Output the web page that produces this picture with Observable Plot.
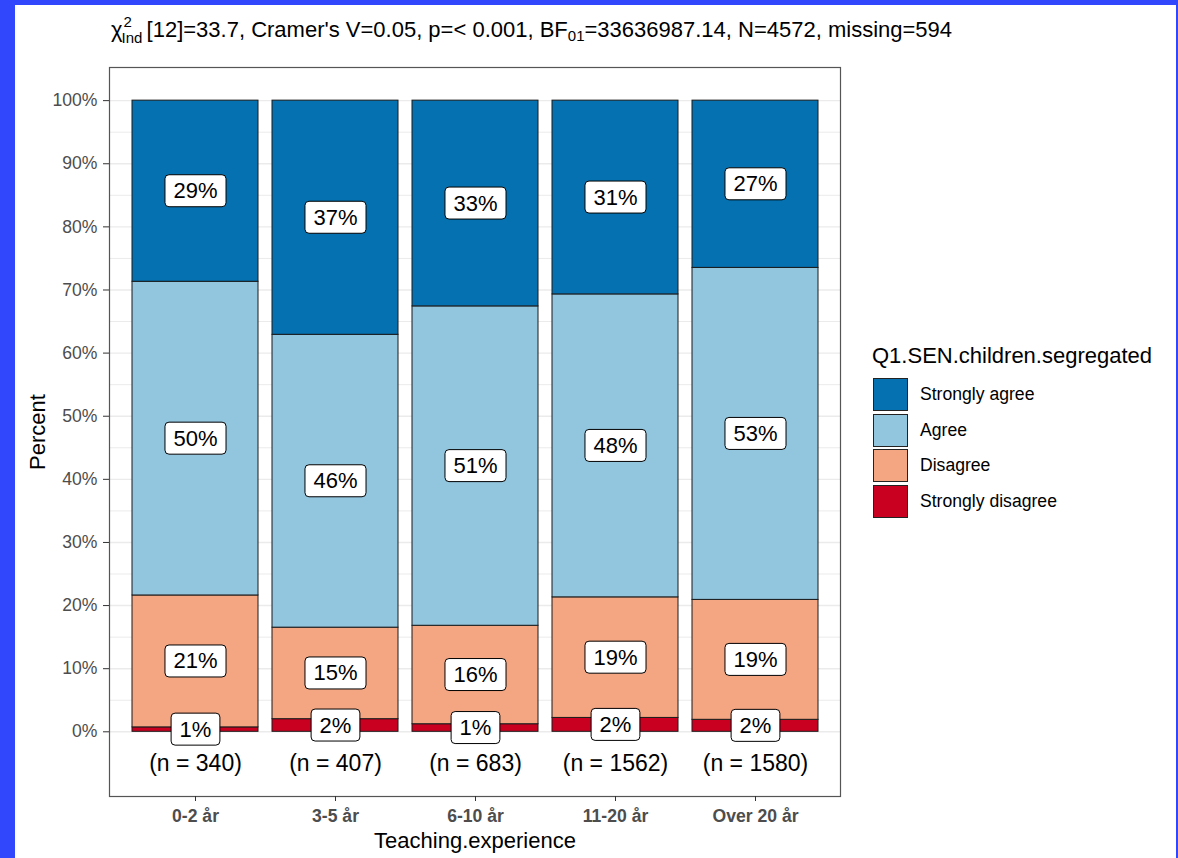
<!DOCTYPE html>
<html>
<head>
<meta charset="utf-8">
<script src="https://cdn.jsdelivr.net/npm/d3@7"></script>
<script src="https://cdn.jsdelivr.net/npm/@observablehq/plot@0.6"></script>
<style>
  html, body { margin: 0; padding: 0; }
  body { width: 1178px; height: 858px; background: #3047fb; position: relative; overflow: hidden;
         font-family: "Liberation Sans", Arial, sans-serif; }
  #sheet { position: absolute; left: 15px; top: 5px; width: 1161px; height: 853px; background: #fff; }
  #title { position: absolute; left: 111px; top: 19px; font-size: 22px; line-height: 22px; color: #000; white-space: nowrap; }
  #title .ss { display: inline-block; position: relative; width: 24px; height: 22px; vertical-align: top; }
  #title .ss .sup { position: absolute; left: 1px; top: -5px; font-size: 15px; line-height: 15px; }
  #title .ss .sub { position: absolute; left: -1px; top: 11px; font-size: 15px; line-height: 15px; }
  #title sub { font-size: 15px; vertical-align: -4px; line-height: 0; }
  #chart { position: absolute; left: 15px; top: 55px; }
  #legend { position: absolute; left: 872px; top: 343px; }
  #legend .lt { font-size: 22px; line-height: 26px; white-space: nowrap; }
  #legend .row { position: absolute; left: 1px; height: 33px; }
  #legend .key { position: absolute; left: 0; top: 0; width: 33px; height: 31px; border: 1px solid #222; }
  #legend .lab { position: absolute; left: 47px; top: 0; line-height: 33px; font-size: 17.6px; white-space: nowrap; }
</style>
</head>
<body>
<div id="sheet"></div>
<div id="title"><span>χ</span><span class="ss"><span class="sup">2</span><span class="sub">Ind</span></span>[12]=33.7, Cramer's V=0.05, p=&lt; 0.001, BF<sub>01</sub>=33636987.14, N=4572, missing=594</div>
<div id="chart"></div>
<div id="legend"></div>
<script>
// ---- data ----
const categories = ["0-2 år", "3-5 år", "6-10 år", "11-20 år", "Over 20 år"];
const counts = [340, 407, 683, 1562, 1580];
const responses = ["Strongly agree", "Agree", "Disagree", "Strongly disagree"];
const colors = ["#0571b0", "#92c5de", "#f4a582", "#ca0020"];
const stronglyDisagree = [0.7, 2.0, 1.2, 2.2, 1.9];
const disagree = [20.9, 14.5, 15.6, 19.1, 19.0];
const agree = [49.7, 46.4, 50.6, 48.0, 52.6];
const stronglyAgree = [28.7, 37.1, 32.6, 30.7, 26.5];
const majorTicks = [0, 0.1, 0.2, 0.3, 0.4, 0.5, 0.6, 0.7, 0.8, 0.9, 1.0];
const minorTicks = [0.05, 0.15, 0.25, 0.35, 0.45, 0.55, 0.65, 0.75, 0.85, 0.95];
const legendTitle = "Q1.SEN.children.segregated";

// ---- derived table (stacked from bottom) ----
const table = [];
categories.forEach((c, i) => {
  let cum = 0;
  [["Strongly disagree", stronglyDisagree[i]], ["Disagree", disagree[i]],
   ["Agree", agree[i]], ["Strongly agree", stronglyAgree[i]]].forEach(([r, v]) => {
    table.push({cat: c, resp: r, v, y1: cum / 100, y2: (cum + v) / 100, mid: (cum + v / 2) / 100});
    cum += v;
  });
});
const nTable = categories.map((c, i) => ({cat: c, label: `(n = ${counts[i]})`}));

const svg = Plot.plot({
  width: 1160, height: 803,
  marginLeft: 94, marginRight: 335, marginTop: 12, marginBottom: 62,
  x: {domain: categories, paddingInner: 0.1, paddingOuter: 0.15, axis: null},
  y: {domain: [-0.1025, 1.0525], axis: null},
  color: {domain: responses, range: colors},
  style: {fontFamily: "'Liberation Sans', Arial, sans-serif", background: "transparent", color: "#000", overflow: "visible"},
  marks: [
    Plot.ruleY(minorTicks, {stroke: "#ebebeb", strokeWidth: 1}),
    Plot.ruleY(majorTicks, {stroke: "#ebebeb", strokeWidth: 1.4}),
    Plot.barY(table, {x: "cat", y1: "y1", y2: "y2", fill: "resp", stroke: "#1a1a1a", strokeWidth: 1}),
    Plot.text(table, {x: "cat", y: "mid", text: d => Math.round(d.v) + "%", fontSize: 22, fill: "#000", className: "seglabel"}),
    Plot.text(nTable, {x: "cat", y: () => -0.05, text: "label", fontSize: 23, fill: "#000"}),
    Plot.frame({stroke: "#555", strokeWidth: 1.2}),
    Plot.axisY({ticks: majorTicks, tickFormat: d3.format(".0%"), tickSize: 6, tickPadding: 6,
                fontSize: 17.6, stroke: "#333", fill: "#4d4d4d", label: null}),
    Plot.axisX({tickSize: 5, tickPadding: 8, fontSize: 17.6, fontWeight: "bold",
                stroke: "#333", fill: "#4d4d4d", label: null}),
    Plot.text(["Percent"], {frameAnchor: "left", textAnchor: "middle", lineAnchor: "middle", dx: -72, rotate: -90, fontSize: 22, fill: "#000"}),
    Plot.text(["Teaching.experience"], {frameAnchor: "bottom", textAnchor: "middle", lineAnchor: "middle", dy: 44, fontSize: 22, fill: "#000"})
  ]
});
document.getElementById("chart").appendChild(svg);

// label boxes behind segment labels
const ns = "http://www.w3.org/2000/svg";
let labelTexts = svg.querySelectorAll("g.seglabel text");
labelTexts.forEach(t => {
  const b = t.getBBox();
  const r = document.createElementNS(ns, "rect");
  const cy = b.y + b.height / 2;
  r.setAttribute("x", b.x - 8.5);
  r.setAttribute("y", cy - 16);
  r.setAttribute("width", b.width + 17);
  r.setAttribute("height", 32);
  r.setAttribute("rx", 4);
  r.setAttribute("fill", "#fff");
  r.setAttribute("stroke", "#000");
  r.setAttribute("stroke-width", 1);
  const tr = t.getAttribute("transform");
  if (tr) r.setAttribute("transform", tr);
  t.parentNode.insertBefore(r, t);
});

// legend
const lg = document.getElementById("legend");
const lt = document.createElement("div");
lt.className = "lt";
lt.textContent = legendTitle;
lg.appendChild(lt);
responses.forEach((r, i) => {
  const row = document.createElement("div");
  row.className = "row";
  row.style.top = (35 + i * 35.5) + "px";
  const k = document.createElement("div");
  k.className = "key";
  k.style.background = colors[i];
  const l = document.createElement("div");
  l.className = "lab";
  l.textContent = r;
  row.appendChild(k); row.appendChild(l);
  lg.appendChild(row);
});
</script>
</body>
</html>
